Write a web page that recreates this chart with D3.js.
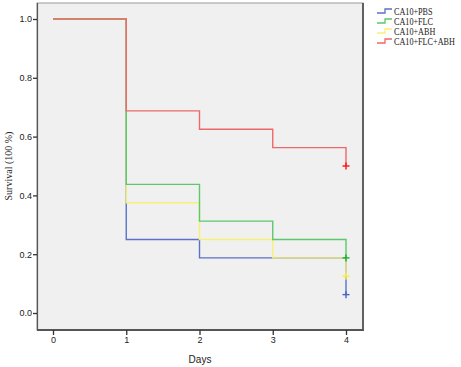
<!DOCTYPE html>
<html>
<head>
<meta charset="utf-8">
<script src="https://cdnjs.cloudflare.com/ajax/libs/d3/7.8.5/d3.min.js"></script>
<style>
  body { margin: 0; background: #fff; }
  svg { display: block; }
</style>
</head>
<body>
<div id="chart"></div>
<script>
// Kaplan-Meier steps, value after each day
var days = [0, 1, 2, 3, 4];
var groups = ["CA10+PBS", "CA10+FLC", "CA10+ABH", "CA10+FLC+ABH"];
var pbs = [1.0, 0.25, 0.1875, 0.1875, 0.0625];
var flc = [1.0, 0.4375, 0.3125, 0.25, 0.1875];
var abh = [1.0, 0.375, 0.25, 0.1875, 0.125];
var flcAbh = [1.0, 0.6875, 0.625, 0.5625, 0.5];
var yTicks = [0.0, 0.2, 0.4, 0.6, 0.8, 1.0];

var colors = ["#5b72c9", "#5dc76b", "#f6f176", "#ee6868"];
var censorColors = ["#4a62c8", "#18b030", "#f4ee40", "#ff1010"];
var series = [pbs, flc, abh, flcAbh];

var width = 461, height = 367;
var svg = d3.select("#chart").append("svg")
  .attr("width", width)
  .attr("height", height);

var x = d3.scaleLinear().domain([0, 4]).range([53, 346]);
var y = d3.scaleLinear().domain([0, 1]).range([313, 19]);

// panel
svg.append("rect")
  .attr("x", 37).attr("y", 3)
  .attr("width", 326).attr("height", 327)
  .attr("fill", "#f0f0f0")
  .attr("stroke", "#9a9a9a")
  .attr("stroke-width", 1);
svg.append("line").attr("x1", 37.5).attr("x2", 37.5).attr("y1", 3).attr("y2", 330)
  .attr("stroke", "#555").attr("stroke-width", 1.2);
svg.append("line").attr("x1", 363).attr("x2", 363).attr("y1", 3).attr("y2", 331)
  .attr("stroke", "#555").attr("stroke-width", 1.8);
svg.append("line").attr("x1", 37).attr("x2", 364).attr("y1", 330).attr("y2", 330)
  .attr("stroke", "#555").attr("stroke-width", 1.8);

// axes
var yAxis = d3.axisLeft(y).tickValues(yTicks).tickSize(4).tickFormat(d3.format(".1f"));
var gy = svg.append("g").attr("transform", "translate(37,0)").call(yAxis);
gy.select(".domain").remove();
gy.selectAll("line").attr("stroke", "#333").attr("stroke-width", 1.3);
gy.selectAll("text").attr("font-family", "Liberation Sans, Arial, sans-serif")
  .attr("font-size", 9).attr("fill", "#222").attr("x", -5);

var xAxis = d3.axisBottom(x).tickValues(days).tickSize(5).tickFormat(d3.format("d"));
var gx = svg.append("g").attr("transform", "translate(0,330)").call(xAxis);
gx.select(".domain").remove();
gx.selectAll("line").attr("stroke", "#333").attr("stroke-width", 1.3);
gx.selectAll("text").attr("font-family", "Liberation Sans, Arial, sans-serif")
  .attr("font-size", 9).attr("fill", "#222").attr("y", 7);

svg.append("text")
  .attr("x", 200).attr("y", 363)
  .attr("text-anchor", "middle")
  .attr("font-family", "Liberation Sans, Arial, sans-serif")
  .attr("font-size", 10).attr("fill", "#222")
  .text("Days");

svg.append("text")
  .attr("transform", "translate(12,166) rotate(-90)")
  .attr("text-anchor", "middle")
  .attr("font-family", "Liberation Serif, Times New Roman, serif")
  .attr("font-size", 10).attr("fill", "#222")
  .text("Survival (100 %)");

// step curves: level held through day i, then drop at day i+1
function stepPoints(vals) {
  var pts = [];
  for (var i = 0; i < vals.length; i++) {
    if (i > 0) pts.push([days[i], vals[i - 1]]);
    pts.push([days[i], vals[i]]);
  }
  return pts;
}

var line = d3.line()
  .x(function (d) { return x(d[0]); })
  .y(function (d) { return y(d[1]); });

var order = [0, 2, 1, 3];
order.forEach(function (k) {
  svg.append("path")
    .attr("d", line(stepPoints(series[k])))
    .attr("fill", "none")
    .attr("stroke", colors[k])
    .attr("stroke-width", 1.4);
});

// censor marks at last day
series.forEach(function (vals, k) {
  var cx = x(days[days.length - 1]), cy = y(vals[vals.length - 1]);
  var g = svg.append("g").attr("stroke", censorColors[k]).attr("stroke-width", 1.4);
  g.append("line").attr("x1", cx - 3.5).attr("x2", cx + 3.5).attr("y1", cy).attr("y2", cy);
  g.append("line").attr("x1", cx).attr("x2", cx).attr("y1", cy - 3.5).attr("y2", cy + 3.5);
});

// legend
var leg = svg.append("g");
groups.forEach(function (name, k) {
  var ly = 11 + k * 10;
  leg.append("path")
    .attr("d", "M377," + (ly + 2) + "H385V" + (ly - 2) + "H392")
    .attr("fill", "none")
    .attr("stroke", colors[k])
    .attr("stroke-width", 1.3);
  leg.append("text")
    .attr("transform", "translate(394," + (ly + 3.5) + ") scale(0.86,1)")
    .attr("font-family", "Liberation Serif, Times New Roman, serif")
    .attr("font-size", 9.5).attr("fill", "#222")
    .text(name);
});
</script>
</body>
</html>
